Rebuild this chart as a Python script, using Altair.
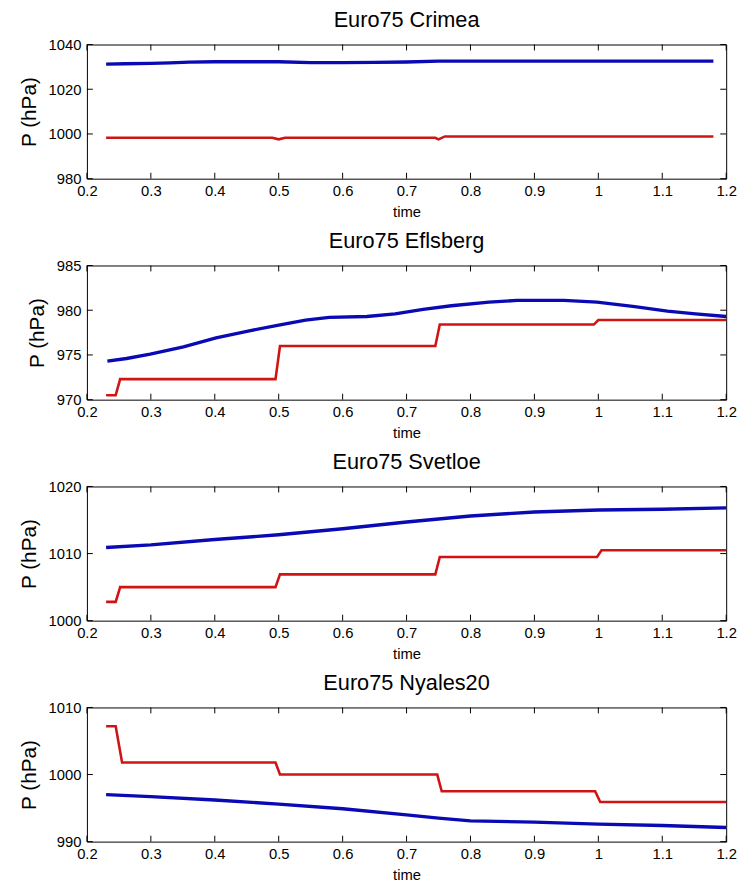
import altair as alt
import pandas as pd

# ---------------- data ----------------
x_ticks = [0.2, 0.3, 0.4, 0.5, 0.6, 0.7, 0.8, 0.9, 1.0, 1.1, 1.2]

titles = ["Euro75 Crimea", "Euro75 Eflsberg", "Euro75 Svetloe", "Euro75 Nyales20"]
y_domains = [[980, 1040], [970, 985], [1000, 1020], [990, 1010]]
y_ticks = [[980, 1000, 1020, 1040], [970, 975, 980, 985], [1000, 1010, 1020], [990, 1000, 1010]]

# Crimea
crimea_blue_t = [0.23, 0.26, 0.30, 0.33, 0.36, 0.40, 0.45, 0.50, 0.55, 0.60, 0.65, 0.70, 0.75, 0.85, 0.95, 1.05, 1.18]
crimea_blue_p = [1031.2, 1031.4, 1031.6, 1031.8, 1032.1, 1032.3, 1032.3, 1032.3, 1031.9, 1031.9, 1032.0, 1032.2, 1032.6, 1032.6, 1032.6, 1032.6, 1032.6]
crimea_red_t = [0.23, 0.49, 0.50, 0.51, 0.745, 0.75, 0.76, 0.90, 1.00, 1.18]
crimea_red_p = [998.3, 998.3, 997.6, 998.3, 998.3, 997.6, 998.9, 998.9, 998.9, 998.9]

# Eflsberg
eflsberg_blue_t = [0.232, 0.262, 0.299, 0.351, 0.402, 0.454, 0.498, 0.542, 0.579, 0.638, 0.682, 0.726, 0.77, 0.829, 0.873, 0.946, 0.998, 1.057, 1.108, 1.152, 1.2]
eflsberg_blue_p = [974.3, 974.6, 975.1, 975.9, 976.9, 977.7, 978.3, 978.9, 979.2, 979.3, 979.6, 980.1, 980.5, 980.9, 981.1, 981.1, 980.9, 980.4, 979.9, 979.6, 979.3]
eflsberg_red_t = [0.23, 0.245, 0.252, 0.495, 0.502, 0.745, 0.752, 0.993, 1.0, 1.2]
eflsberg_red_p = [970.5, 970.5, 972.3, 972.3, 976.0, 976.0, 978.4, 978.4, 978.9, 978.9]

# Svetloe
svetloe_blue_t = [0.23, 0.30, 0.40, 0.50, 0.60, 0.70, 0.80, 0.90, 1.00, 1.10, 1.20]
svetloe_blue_p = [1010.9, 1011.3, 1012.1, 1012.8, 1013.7, 1014.7, 1015.6, 1016.2, 1016.5, 1016.6, 1016.8]
svetloe_red_t = [0.23, 0.245, 0.252, 0.495, 0.502, 0.745, 0.752, 0.998, 1.005, 1.2]
svetloe_red_p = [1002.8, 1002.8, 1005.0, 1005.0, 1006.9, 1006.9, 1009.5, 1009.5, 1010.5, 1010.5]

# Nyales20
nyales_blue_t = [0.23, 0.30, 0.40, 0.50, 0.60, 0.70, 0.75, 0.80, 0.90, 1.00, 1.10, 1.20]
nyales_blue_p = [997.0, 996.7, 996.2, 995.6, 994.9, 994.0, 993.5, 993.1, 992.9, 992.6, 992.4, 992.1]
nyales_red_t = [0.23, 0.245, 0.255, 0.495, 0.502, 0.748, 0.755, 0.995, 1.003, 1.2]
nyales_red_p = [1007.2, 1007.2, 1001.8, 1001.8, 1000.0, 1000.0, 997.5, 997.5, 995.9, 995.9]

series_names = ["blue", "red"]
series_colors = ["#0a0ab4", "#d01414"]
series_widths = [3.4, 2.6]

blue_ts = [crimea_blue_t, eflsberg_blue_t, svetloe_blue_t, nyales_blue_t]
blue_ps = [crimea_blue_p, eflsberg_blue_p, svetloe_blue_p, nyales_blue_p]
red_ts = [crimea_red_t, eflsberg_red_t, svetloe_red_t, nyales_red_t]
red_ps = [crimea_red_p, eflsberg_red_p, svetloe_red_p, nyales_red_p]

W = 648
H = 136
TICK = 6
FONT = "Liberation Sans"

axis_common = dict(domain=False, ticks=False, grid=False, labelFlush=False,
                   labelFont=FONT, labelFontSize=15, labelColor="black",
                   titleFont=FONT, titleFontWeight="normal", titleColor="black")


def panel(i):
    df = pd.concat([
        pd.DataFrame({"t": blue_ts[i], "p": blue_ps[i], "s": "blue"}),
        pd.DataFrame({"t": red_ts[i], "p": red_ps[i], "s": "red"}),
    ])
    xenc = alt.X("t:Q", scale=alt.Scale(domain=[0.2, 1.2], nice=False, zero=False),
                 axis=alt.Axis(values=x_ticks, format=".1~f", title="time",
                               labelPadding=5, titlePadding=6, titleFontSize=15,
                               **axis_common))
    yenc = alt.Y("p:Q", scale=alt.Scale(domain=y_domains[i], nice=False, zero=False),
                 axis=alt.Axis(values=y_ticks[i], format="d", title="P (hPa)",
                               labelPadding=6, titlePadding=9, titleFontSize=21,
                               **axis_common))
    lines = alt.Chart(df).mark_line(clip=True).encode(
        x=xenc, y=yenc,
        color=alt.Color("s:N", scale=alt.Scale(domain=series_names, range=series_colors), legend=None),
        strokeWidth=alt.StrokeWidth("s:N", scale=alt.Scale(domain=series_names, range=series_widths), legend=None),
    )
    xt = pd.DataFrame({"t": x_ticks})
    yt = pd.DataFrame({"p": y_ticks[i]})
    tick_style = dict(color="black", strokeWidth=1)
    top_ticks = alt.Chart(xt).mark_rule(**tick_style).encode(x=xenc, y=alt.value(0), y2=alt.value(TICK))
    bot_ticks = alt.Chart(xt).mark_rule(**tick_style).encode(x=xenc, y=alt.value(H), y2=alt.value(H - TICK))
    left_ticks = alt.Chart(yt).mark_rule(**tick_style).encode(y=yenc, x=alt.value(0), x2=alt.value(TICK))
    right_ticks = alt.Chart(yt).mark_rule(**tick_style).encode(y=yenc, x=alt.value(W), x2=alt.value(W - TICK))
    return alt.layer(lines, top_ticks, bot_ticks, left_ticks, right_ticks).properties(
        width=W, height=H,
        title=alt.TitleParams(titles[i], offset=6, fontSize=22, font=FONT, fontWeight="normal", color="black"),
    )


chart = alt.vconcat(*[panel(i) for i in range(4)], spacing=9).properties(
    padding={"left": 10, "right": 3, "top": -6, "bottom": 0},
    background="white",
).configure_view(
    stroke="black", strokeWidth=1
).configure_axis(
    domain=False, ticks=False, grid=False,
    labelFont=FONT, labelFontSize=15, labelColor="black",
    titleFont=FONT, titleFontWeight="normal", titleColor="black",
)

chart.save("out.html", embed_options={"renderer": "svg", "actions": False})
